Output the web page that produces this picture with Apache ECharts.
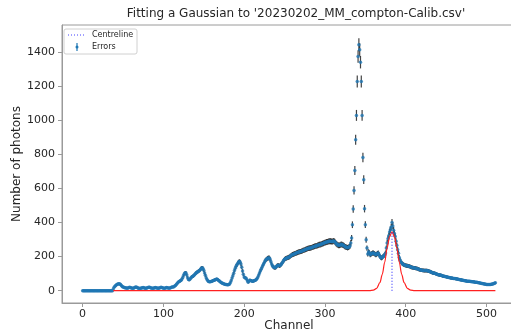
<!DOCTYPE html>
<html>
<head>
<meta charset="utf-8">
<script src="https://cdn.jsdelivr.net/npm/echarts@6/dist/echarts.min.js"></script>
<style>
  html, body { margin: 0; padding: 0; background: #fff; }
  #chart { width: 511px; height: 334px; }
</style>
</head>
<body>
<div id="chart"></div>
<script>
// photon counts per channel (0..511)
const counts = [
  0,0,0,0,0,0,0,0,0,0,0,0,0,0,0,0,
  0,0,0,0,0,0,0,0,0,0,0,0,0,0,0,0,
  0,0,0,0,0,0,10,20,26,31,35,38,40,41,40,36,
  30,25,22,20,18,17,16,15,16,18,20,19,17,15,14,15,
  17,20,22,20,17,15,14,13,14,16,18,19,17,15,14,15,
  17,19,21,20,17,16,15,14,15,17,19,18,16,14,15,16,
  18,20,19,17,15,14,15,17,19,18,16,15,16,18,20,22,
  22,24,27,31,36,42,48,53,56,58,62,68,78,90,100,106,
  104,92,76,66,64,68,74,80,84,86,90,96,102,106,110,113,
  116,120,126,132,134,130,120,104,90,76,66,58,54,52,52,54,
  56,58,60,62,64,66,68,66,62,58,54,50,46,44,42,40,
  38,37,36,35,35,36,40,48,60,74,88,102,118,132,144,152,
  160,168,172,168,156,138,116,96,80,76,74,68,58,50,55,62,
  60,58,56,56,58,60,62,66,72,80,92,104,116,126,136,148,
  156,166,176,182,186,190,192,192,186,172,156,146,140,136,134,136,
  142,148,150,148,146,150,156,162,170,178,184,188,190,192,194,196,
  198,202,206,210,212,214,216,218,220,222,224,226,228,229,230,232,
  234,236,238,240,242,244,246,248,249,250,251,252,254,256,258,260,
  262,262,264,266,268,270,270,272,274,276,278,280,282,284,286,286,
  288,290,290,290,289,288,290,292,288,282,276,272,268,266,266,268,
  272,270,268,266,262,258,256,254,252,254,258,262,280,309,387,479,
  588,705,885,1028,1227,1373,1442,1413,1340,1227,1028,781,651,481,387,299,
  250,215,228,222,211,214,218,221,221,218,214,211,214,218,221,212,
  201,196,192,196,201,206,211,221,250,280,305,322,345,358,372,400,
  380,355,335,318,290,265,240,220,195,180,170,162,158,154,152,150,
  148,147,146,145,144,142,140,138,136,135,134,133,132,131,130,128,
  126,124,122,121,120,119,119,118,118,118,118,117,116,114,112,110,
  108,106,104,103,102,100,98,96,94,93,92,91,90,88,86,85,
  84,83,82,80,79,78,77,76,75,74,73,72,72,71,70,69,
  68,67,66,65,64,63,62,61,60,59,58,57,56,56,55,55,
  54,54,53,53,52,51,50,50,49,48,47,46,45,44,43,42,
  41,40,39,38,37,36,36,36,37,37,38,39,40,42,44,46
];
const channels = counts.map((_, i) => i);
// Poisson errors
const errors = counts.map((n) => Math.sqrt(n));

// gaussian fit: [channel, counts]
const fitCurve = [
  [38, 0], [355, 0], [360, 3], [364, 14], [368, 47], [371, 96], [374, 168],
  [377, 251], [380, 318], [383, 345], [386, 318], [389, 251], [392, 168],
  [395, 96], [398, 47], [402, 14], [406, 3], [411, 0], [511, 0]
];
const centreChannel = 383;
const centreLine = [[centreChannel, 0], [centreChannel, 350]];

const xTicks = [0, 100, 200, 300, 400, 500];
const yTicks = [0, 200, 400, 600, 800, 1000, 1200, 1400];

const chart = echarts.init(document.getElementById("chart"), null, { renderer: "canvas" });

const axisGray = "#9a9a9a";
const textColor = "#262626";
const font = "DejaVu Sans";

const option = {
  animation: false,
  backgroundColor: "#fff",
  title: {
    text: "Fitting a Gaussian to '20230202_MM_compton-Calib.csv'",
    left: 291,
    top: 3,
    textAlign: "center",
    textStyle: { fontFamily: font, fontSize: 12, fontWeight: "normal", color: textColor },
  },
  grid: {
    left: 62, top: 25, width: 454, height: 278,
    outerBoundsMode: "none",
    containLabel: false,
    show: true, borderColor: axisGray, borderWidth: 1,
  },
  xAxis: {
    type: "value",
    min: -25.5,
    max: 536.5,
    name: "Channel",
    nameLocation: "middle",
    nameGap: 17,
    nameMoveOverlap: false,
    nameTextStyle: { fontFamily: font, fontSize: 12, color: textColor },
    axisLine: { onZero: false, lineStyle: { color: axisGray } },
    axisTick: { show: true, length: 4, customValues: xTicks, lineStyle: { color: axisGray } },
    axisLabel: { customValues: xTicks, margin: 6, fontFamily: font, fontSize: 11, color: textColor, formatter: (v) => String(v) },
    splitLine: { show: false },
  },
  yAxis: {
    type: "value",
    min: -72,
    max: 1558,
    name: "Number of photons",
    nameLocation: "middle",
    nameGap: 39,
    nameMoveOverlap: false,
    nameRotate: 90,
    nameTextStyle: { fontFamily: font, fontSize: 12, color: textColor },
    axisLine: { show: true, onZero: false, lineStyle: { color: axisGray } },
    axisTick: { show: true, length: 4, customValues: yTicks, lineStyle: { color: axisGray } },
    axisLabel: { customValues: yTicks, margin: 7, fontFamily: font, fontSize: 11, color: textColor, formatter: (v) => String(v) },
    splitLine: { show: false },
  },
  series: [
    {
      name: "Errors",
      type: "custom",
      data: channels.map((c, i) => [c, counts[i] - errors[i], counts[i] + errors[i]]),
      renderItem: (params, api) => {
        const p1 = api.coord([api.value(0), api.value(1)]);
        const p2 = api.coord([api.value(0), api.value(2)]);
        return {
          type: "line",
          shape: { x1: p1[0], y1: p1[1], x2: p2[0], y2: p2[1] },
          style: { stroke: "rgba(20,20,20,0.8)", lineWidth: 1.2 },
        };
      },
      z: 2,
    },
    {
      name: "Counts",
      type: "scatter",
      data: channels.map((c, i) => [c, counts[i]]),
      symbol: "circle",
      symbolSize: 3.5,
      itemStyle: { color: "#1f77b4" },
      z: 3,
    },
    {
      name: "Fit",
      type: "line",
      data: fitCurve,
      smooth: 0.3,
      smoothMonotone: "x",
      showSymbol: false,
      lineStyle: { color: "#ff2020", width: 1.2 },
      z: 4,
    },
    {
      name: "Centreline",
      type: "line",
      data: centreLine,
      showSymbol: false,
      lineStyle: { color: "#4040ff", width: 1.2, type: [1, 2] },
      z: 5,
    },
  ],
  graphic: [
    {
      type: "rect",
      shape: { x: 64, y: 29, width: 73, height: 25, r: 2 },
      style: { fill: "rgba(255,255,255,0.85)", stroke: "#d0d0d0", lineWidth: 1 },
      z: 10,
    },
    {
      type: "line",
      shape: { x1: 68, y1: 35, x2: 85, y2: 35 },
      style: { stroke: "#4040ff", lineWidth: 1, lineDash: [1, 2] },
      z: 11,
    },
    {
      type: "line",
      shape: { x1: 77, y1: 43, x2: 77, y2: 51 },
      style: { stroke: "#1f77b4", lineWidth: 1.2 },
      z: 11,
    },
    {
      type: "circle",
      shape: { cx: 77, cy: 47, r: 1.5 },
      style: { fill: "#1f77b4" },
      z: 12,
    },
    {
      type: "text",
      x: 92, y: 35,
      style: { text: "Centreline", fontFamily: font, fontSize: 8, fill: textColor, verticalAlign: "middle" },
      z: 12,
    },
    {
      type: "text",
      x: 92, y: 47,
      style: { text: "Errors", fontFamily: font, fontSize: 8, fill: textColor, verticalAlign: "middle" },
      z: 12,
    },
  ],
};

chart.setOption(option);
</script>
</body>
</html>
